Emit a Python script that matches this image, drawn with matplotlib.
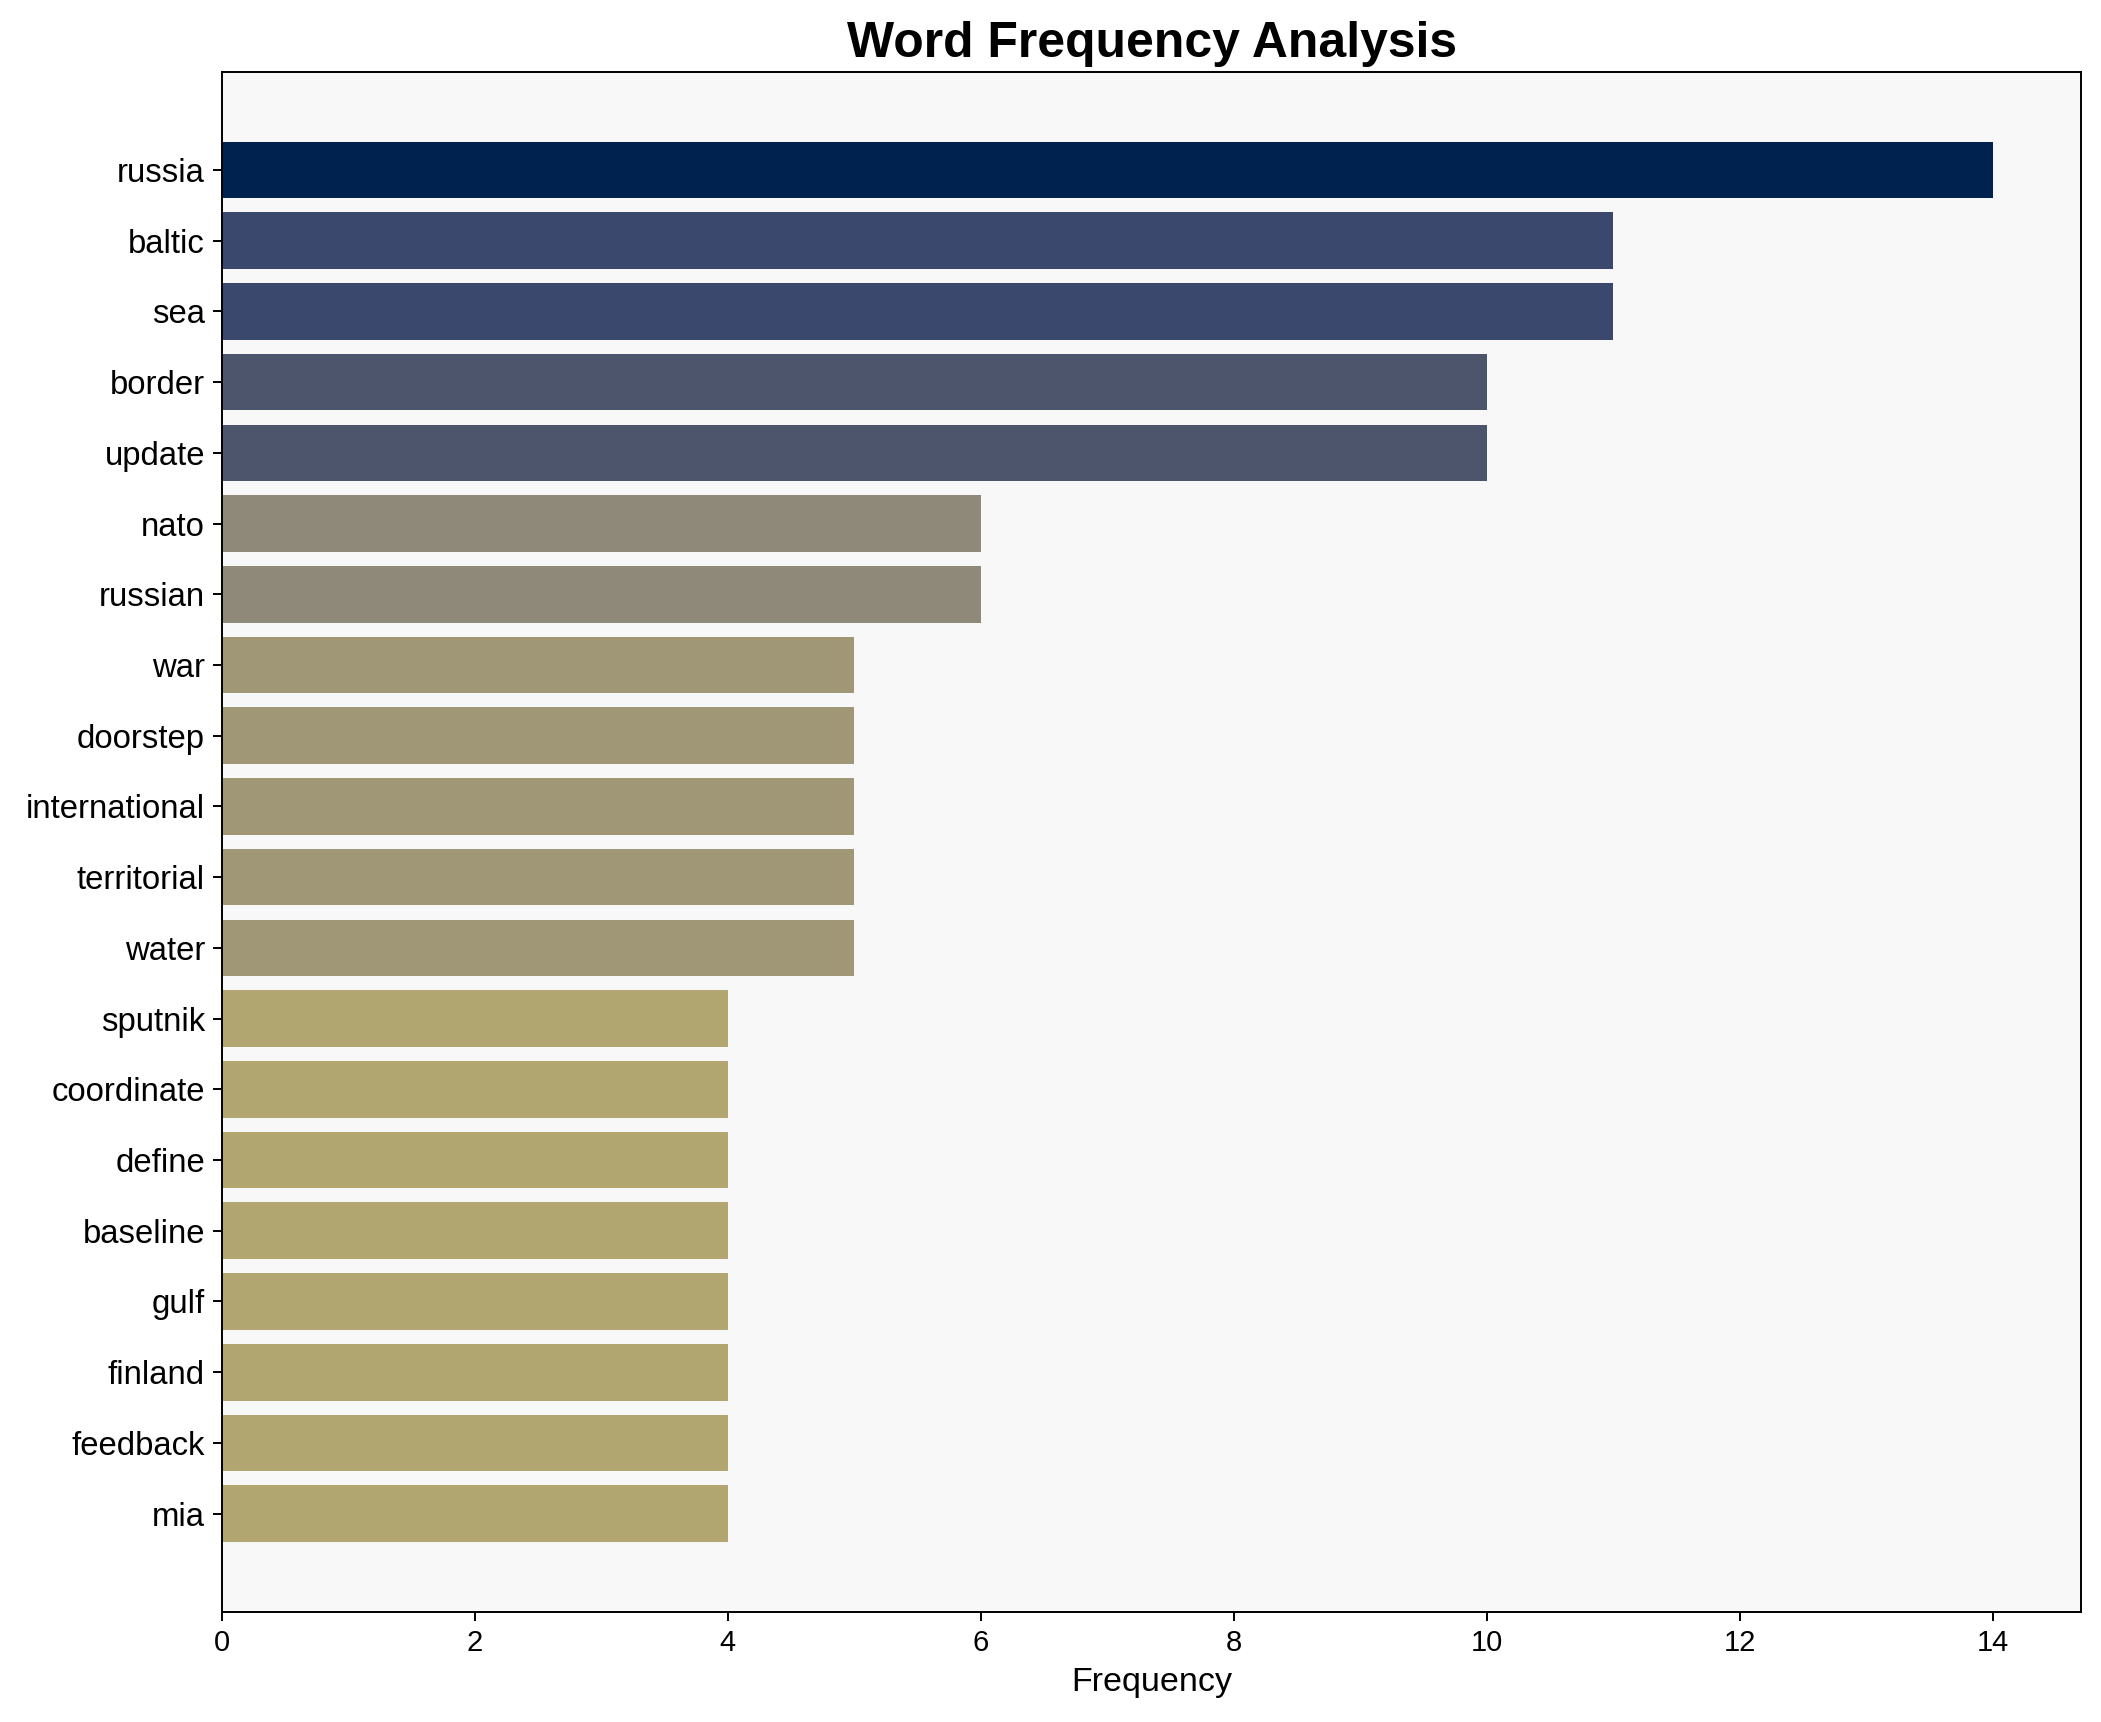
import matplotlib.pyplot as plt
from matplotlib.colors import Normalize

plt.rcParams['font.family'] = ['Liberation Sans', 'DejaVu Sans']

# Word counts (top to bottom)
words = ['russia', 'baltic', 'sea', 'border', 'update', 'nato', 'russian', 'war',
         'doorstep', 'international', 'territorial', 'water', 'sputnik', 'coordinate',
         'define', 'baseline', 'gulf', 'finland', 'feedback', 'mia']
counts = [14, 11, 11, 10, 10, 6, 6, 5, 5, 5, 5, 5, 4, 4, 4, 4, 4, 4, 4, 4]

norm = Normalize(vmin=0, vmax=max(counts))
colors = [plt.cm.cividis(1 - norm(c)) for c in counts]

fig = plt.figure(figsize=(2101 / 175, 1722 / 175), dpi=175)
ax = fig.add_axes([0.1057, 0.0639, 0.8848, 0.8945])
ax.set_facecolor('#f8f8f8')

ax.barh(words, counts, color=colors)
ax.invert_yaxis()

ax.set_title('Word Frequency Analysis', fontsize=20.5, fontweight='bold')
ax.set_xlabel('Frequency', fontsize=14)
ax.tick_params(axis='y', labelsize=13.5)
ax.tick_params(axis='x', labelsize=12)

fig.savefig('out.png', dpi=175)
